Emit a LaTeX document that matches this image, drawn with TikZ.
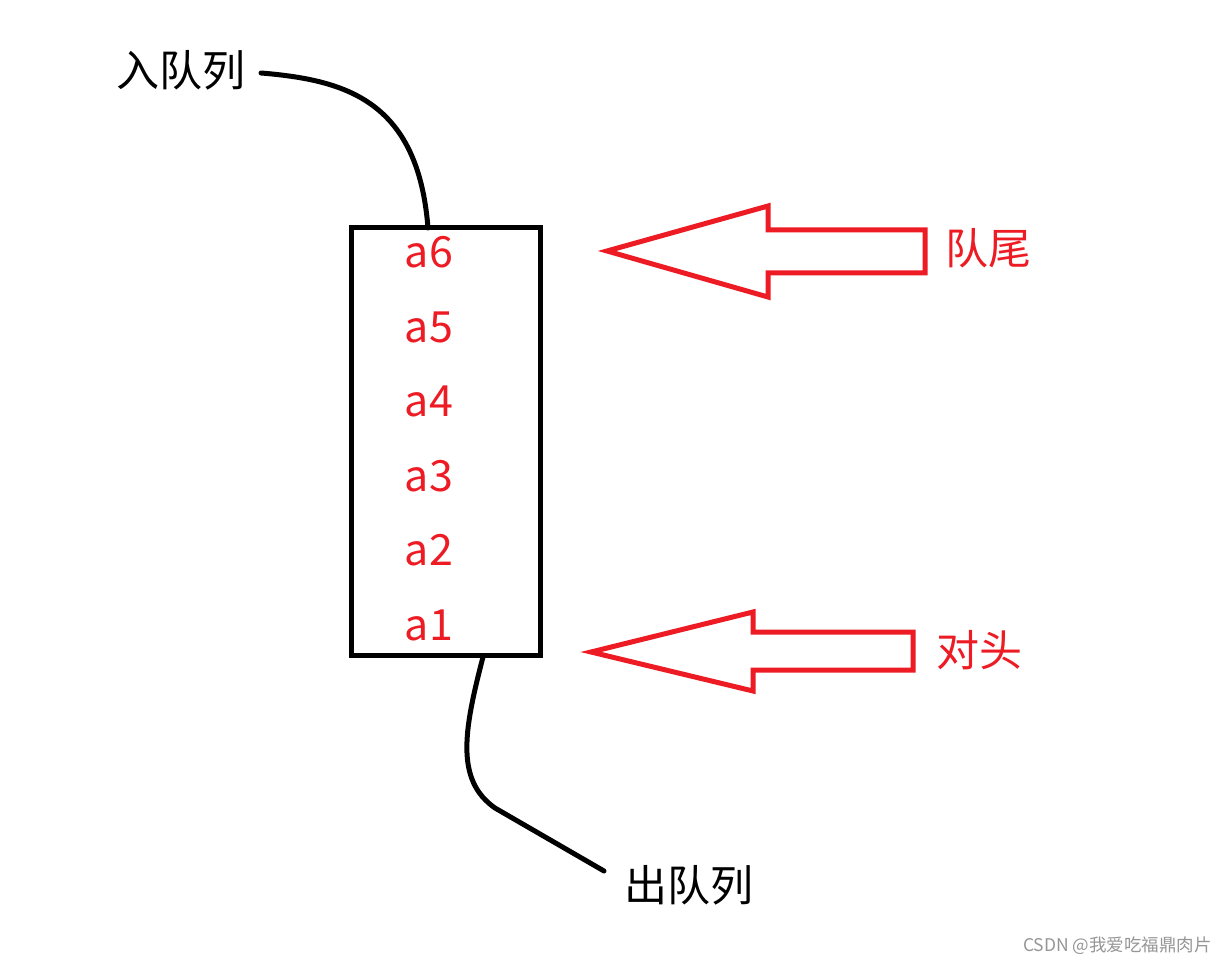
\documentclass[tikz,border=0pt]{standalone}
\usepackage{fontspec}
\setmainfont{Noto Sans CJK SC}
\definecolor{pred}{RGB}{237,28,36}
\definecolor{wgray}{RGB}{150,150,150}
\begin{document}
\begin{tikzpicture}[x=1pt,y=-1pt,
  blk/.style={line width=5pt,draw=black,line join=round,line cap=round},
  redarrow/.style={line width=5pt,draw=pred,line join=miter},
  big/.style={font=\fontsize{43}{50}\selectfont,inner sep=0pt},
  item/.style={big,text=pred}]
\useasboundingbox[fill=white] (0,0) rectangle (1227,968);
\node[draw,line width=5pt,minimum width=189pt,minimum height=427pt,inner sep=0pt,outer sep=0pt,anchor=north west] (box) at (351,228) {};
\node[item] (a6) at (429,252) {a6};
\node[item] (a5) at (429,327) {a5};
\node[item] (a4) at (429,401) {a4};
\node[item] (a3) at (429,476) {a3};
\node[item] (a2) at (429,550) {a2};
\node[item] (a1) at (429,625) {a1};
\node[big] (enq) at (181,70) {入队列};
\node[big] (deq) at (689,885) {出队列};
\node[item] (tail) at (988,248) {队尾};
\node[item] (head) at (979,650) {对头};
\node[font=\fontsize{17.5}{20}\selectfont,text=wgray,anchor=east,inner sep=0pt] (wm) at (1212,946) {CSDN @我爱吃福鼎肉片};
\coordinate (enqs) at (261,73);
\coordinate (boxtop) at (428,228);
\coordinate (boxbot) at (483,657);
\coordinate (deqs) at (604,871);
\draw[blk] (enqs) .. controls (345,80) and (418,100) .. (boxtop);
\draw[blk] (boxbot) .. controls (464,730) and (455,780) .. (495,808) -- (deqs);
\draw[redarrow] (607,251) -- (768,206) -- (768,230) -- (925,230) -- (925,273) -- (768,273) -- (768,297) -- cycle;
\draw[redarrow] (591,652) -- (753,612) -- (753,632) -- (913,632) -- (913,670) -- (753,670) -- (753,691) -- cycle;
\end{tikzpicture}
\end{document}
